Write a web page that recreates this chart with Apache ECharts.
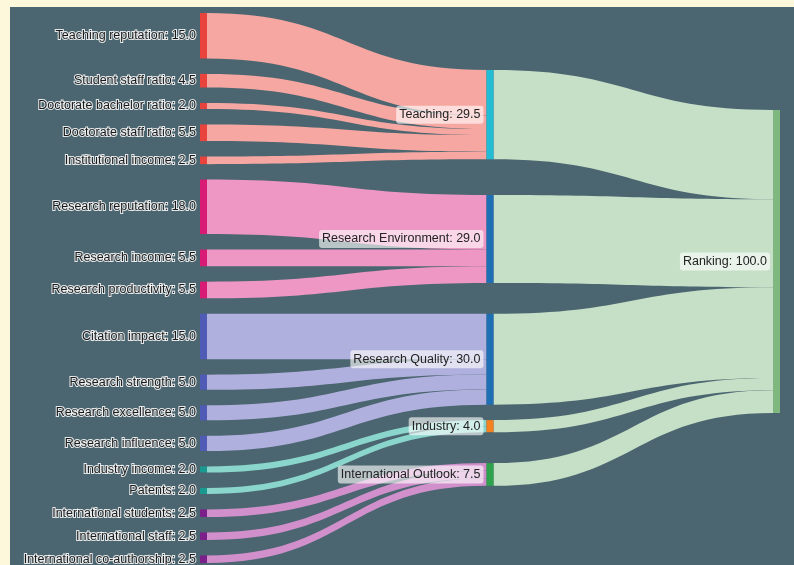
<!DOCTYPE html>
<html>
<head>
<meta charset="utf-8">
<script src="https://cdn.jsdelivr.net/npm/echarts@6/dist/echarts.min.js"></script>
<style>
html,body{margin:0;padding:0;background:#fdf8dc;}
#frame{position:absolute;left:10px;top:7px;width:784px;height:558px;background:#4b6670;}
#chart{position:absolute;left:0;top:0;width:794px;height:565px;}
</style>
</head>
<body>
<div id="frame"></div>
<div id="chart"></div>
<script>
// ---------- DATA ----------
// Pillars (middle column)
const pillars = ['Teaching', 'Research Environment', 'Research Quality', 'Industry', 'International Outlook'];
const pillarValues = [29.5, 29.0, 30.0, 4.0, 7.5];
// Metrics (left column) and the pillar each one feeds
const metrics = [
  'Teaching reputation', 'Student staff ratio', 'Doctorate bachelor ratio', 'Doctorate staff ratio', 'Institutional income',
  'Research reputation', 'Research income', 'Research productivity',
  'Citation impact', 'Research strength', 'Research excellence', 'Research influence',
  'Industry income', 'Patents',
  'International students', 'International staff', 'International co-authorship'
];
const metricValues = [15.0, 4.5, 2.0, 5.5, 2.5, 18.0, 5.5, 5.5, 15.0, 5.0, 5.0, 5.0, 2.0, 2.0, 2.5, 2.5, 2.5];
const metricPillar = [0, 0, 0, 0, 0, 1, 1, 1, 2, 2, 2, 2, 3, 3, 4, 4, 4];
// Overall (right column)
const total = 'Ranking';
const totalValue = 100.0;

// ---------- STYLE / LAYOUT ----------
const pillarColors = ['#22bcd4', '#1f6fb5', '#1f6fb5', '#f5821f', '#2ea24c'];
const groupNodeColors = ['#e8433c', '#d81b74', '#4f5bb5', '#1a9990', '#7b1f8a'];
const groupFlowColors = ['#f6a7a1', '#ee97c4', '#b0b0de', '#8ad6cc', '#d190cc'];
const totalNodeColor = '#7fb77e';
const totalFlowColor = '#c6dfc7';
// invisible padding nodes that reproduce the vertical spacing of the middle/right columns
const middlePadBefore = [13.7, 1.6, 0, 0, 0];   // padding placed before each pillar (0 = one extra gap)
const middlePadUse = [true, true, true, false, true];
const rightPadBefore = 26.9;

const font = 'Liberation Sans, Arial, sans-serif';
const leftLabel = {
  show: true, position: 'left', distance: 4, color: '#1a1a1a', fontSize: 12.5, fontFamily: font,
  textBorderColor: 'rgba(255,255,255,0.85)', textBorderWidth: 2
};
const boxLabel = {
  show: true, position: 'left', distance: 3, color: '#222', fontSize: 12.5, fontFamily: font,
  backgroundColor: 'rgba(255,255,255,0.62)', padding: [3, 3, 2, 3], borderRadius: 3
};
const padNode = (name, depth, value) => ({
  name, depth, value, itemStyle: { color: 'rgba(0,0,0,0)' }, label: { show: false }, tooltip: { show: false }
});

const nodes = [];
const links = [];
metrics.forEach((m, i) => {
  nodes.push({ name: m, depth: 0, value: metricValues[i],
    itemStyle: { color: groupNodeColors[metricPillar[i]] }, label: leftLabel });
  links.push({ source: m, target: pillars[metricPillar[i]], value: metricValues[i],
    lineStyle: { color: groupFlowColors[metricPillar[i]], opacity: 1 } });
});
pillars.forEach((p, i) => {
  if (middlePadUse[i]) nodes.push(padNode('__pad_mid_' + i, 1, middlePadBefore[i]));
  nodes.push({ name: p, depth: 1, value: pillarValues[i],
    itemStyle: { color: pillarColors[i] }, label: boxLabel });
  links.push({ source: p, target: total, value: pillarValues[i],
    lineStyle: { color: totalFlowColor, opacity: 1 } });
});
nodes.push(padNode('__pad_right', 2, rightPadBefore));
nodes.push({ name: total, depth: 2, value: totalValue,
  itemStyle: { color: totalNodeColor }, label: boxLabel });

const chart = echarts.init(document.getElementById('chart'), null, { renderer: 'canvas' });
chart.setOption({
  backgroundColor: 'transparent',
  animation: false,
  series: [{
    type: 'sankey',
    left: 200, right: 14, top: 13, bottom: 2,
    nodeWidth: 7,
    nodeGap: 15.44,
    layoutIterations: 0,
    nodeAlign: 'justify',
    draggable: false,
    emphasis: { disabled: true },
    itemStyle: { borderWidth: 0 },
    lineStyle: { curveness: 0.5 },
    label: {
      formatter: p => p.name + ': ' + Number(p.value).toFixed(1)
    },
    data: nodes,
    links: links
  }]
});
</script>
</body>
</html>
